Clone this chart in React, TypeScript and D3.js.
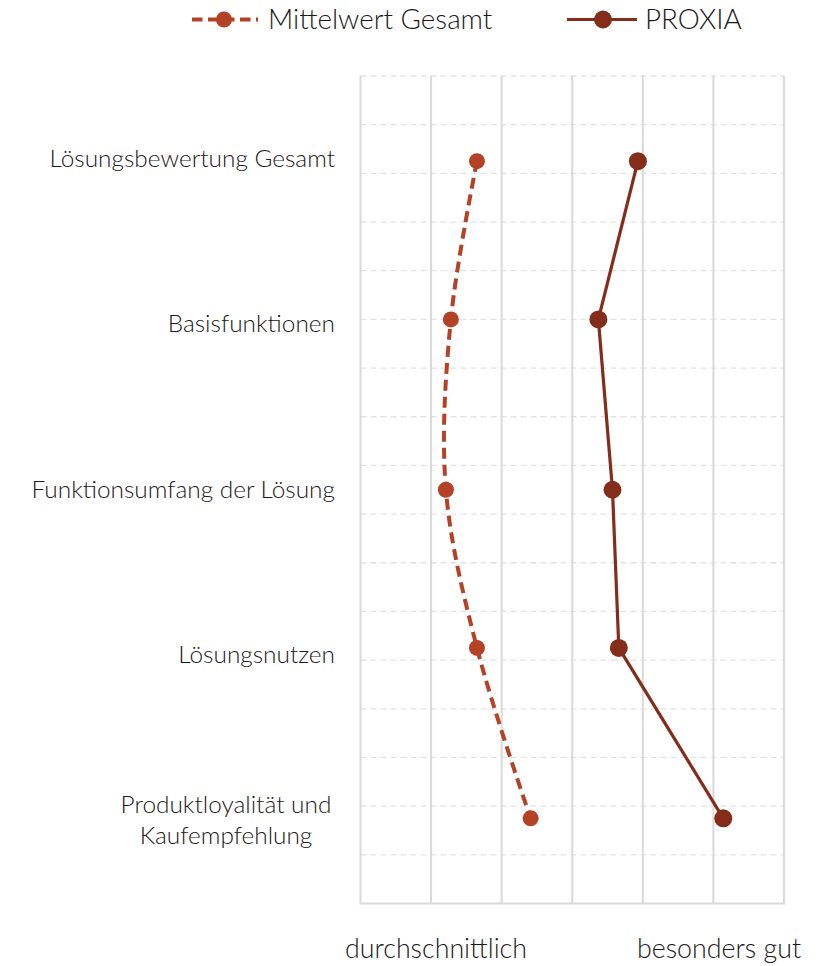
import React, { useEffect, useRef } from 'react';
import * as d3 from 'd3';

// categories, top to bottom
const categories = [
    'Lösungsbewertung Gesamt',
    'Basisfunktionen',
    'Funktionsumfang der Lösung',
    'Lösungsnutzen',
    'Produktloyalität und Kaufempfehlung',
];

// vertical position of each point on the hidden y axis (0..17)
const pointRows = [1.75, 5.0, 8.5, 11.75, 15.25];

// horizontal values on the hidden x axis (0..6)
const mittelwertValues = [1.65, 1.28, 1.21, 1.65, 2.41];
const proxiaValues = [3.93, 3.37, 3.57, 3.66, 5.14];

const axisLabels = ['durchschnittlich', 'besonders gut'];
const axisLabelValues = [1.07, 5.08];

const FONT = 'Lato, "Open Sans", sans-serif';
const C_MITTEL = '#B44226';
const C_PROXIA = '#842D1B';

const width = 818;
const height = 966;
const plot = { left: 360.5, right: 784, top: 76, bottom: 903.5 };

export default function App() {
    const svgRef = useRef(null);

    useEffect(() => {
        document.body.style.margin = '0';
        if (!svgRef.current) return;
        const svg = d3.select(svgRef.current);
        svg.selectAll('*').remove();

        const x = d3.scaleLinear().domain([0, 6]).range([plot.left, plot.right]);
        const y = d3.scaleLinear().domain([0, 17]).range([plot.top, plot.bottom]);
        const band = d3.scaleBand().domain(categories).range([plot.top, plot.bottom]);

        // horizontal dashed gridlines
        const g = svg.append('g');
        g.selectAll('.hgrid')
            .data(d3.range(0, 17))
            .enter().append('line')
            .attr('x1', plot.left).attr('x2', plot.right)
            .attr('y1', d => y(d)).attr('y2', d => y(d))
            .attr('stroke', '#E3E3E3')
            .attr('stroke-width', 1.3)
            .attr('stroke-dasharray', '6 4');

        // vertical gridlines
        g.selectAll('.vgrid')
            .data(x.ticks(6))
            .enter().append('line')
            .attr('x1', d => x(d)).attr('x2', d => x(d))
            .attr('y1', plot.top).attr('y2', plot.bottom)
            .attr('stroke', '#D9D9D9')
            .attr('stroke-width', 2);

        // bottom axis line
        g.append('line')
            .attr('x1', plot.left - 1).attr('x2', plot.right + 1)
            .attr('y1', plot.bottom).attr('y2', plot.bottom)
            .attr('stroke', '#D9D9D9')
            .attr('stroke-width', 2);

        // category labels
        const labels = svg.append('g')
            .attr('font-family', FONT)
            .attr('font-weight', 300)
            .attr('font-size', 24.4)
            .attr('fill', '#1a1a1a');
        categories.forEach(c => {
            const cy = band(c) + band.bandwidth() / 2;
            if (c === 'Produktloyalität und Kaufempfehlung') {
                const t = labels.append('text')
                    .attr('x', 226)
                    .attr('text-anchor', 'middle');
                t.append('tspan').attr('x', 226).attr('y', cy - 8).text('Produktloyalität und');
                t.append('tspan').attr('x', 226).attr('y', cy + 23).text('Kaufempfehlung');
            } else {
                labels.append('text')
                    .attr('x', 335)
                    .attr('y', cy + 8)
                    .attr('text-anchor', 'end')
                    .text(c);
            }
        });

        // axis end labels
        labels.selectAll('.axl')
            .data(axisLabels)
            .enter().append('text')
            .attr('x', (d, i) => x(axisLabelValues[i]))
            .attr('y', 958)
            .attr('font-size', 26.8)
            .attr('text-anchor', 'middle')
            .text(d => d);

        const smooth = d3.line()
            .x(d => x(d[0]))
            .y(d => y(d[1]))
            .curve(d3.curveCatmullRom.alpha(0.5));
        const straight = d3.line()
            .x(d => x(d[0]))
            .y(d => y(d[1]));

        const mPts = mittelwertValues.map((v, i) => [v, pointRows[i]]);
        const pPts = proxiaValues.map((v, i) => [v, pointRows[i]]);

        // Mittelwert Gesamt (smoothed dashed)
        svg.append('path')
            .datum(mPts)
            .attr('fill', 'none')
            .attr('stroke', C_MITTEL)
            .attr('stroke-width', 4)
            .attr('stroke-dasharray', '11 6')
            .attr('d', smooth);

        // PROXIA
        svg.append('path')
            .datum(pPts)
            .attr('fill', 'none')
            .attr('stroke', C_PROXIA)
            .attr('stroke-width', 3.2)
            .attr('d', straight);

        svg.selectAll('.mdot')
            .data(mPts)
            .enter().append('circle')
            .attr('cx', d => x(d[0])).attr('cy', d => y(d[1]))
            .attr('r', 8)
            .attr('fill', C_MITTEL);

        svg.selectAll('.pdot')
            .data(pPts)
            .enter().append('circle')
            .attr('cx', d => x(d[0])).attr('cy', d => y(d[1]))
            .attr('r', 9)
            .attr('fill', C_PROXIA);

        // legend
        const lg = svg.append('g')
            .attr('font-family', FONT)
            .attr('font-weight', 300)
            .attr('font-size', 27.8)
            .attr('fill', '#1a1a1a');
        lg.append('line')
            .attr('x1', 192).attr('x2', 258).attr('y1', 19.5).attr('y2', 19.5)
            .attr('stroke', C_MITTEL).attr('stroke-width', 4)
            .attr('stroke-dasharray', '10.5 5.5');
        lg.append('circle').attr('cx', 224).attr('cy', 19.5).attr('r', 8).attr('fill', C_MITTEL);
        lg.append('text').attr('x', 268).attr('y', 29).text('Mittelwert Gesamt');

        lg.append('line')
            .attr('x1', 567).attr('x2', 637).attr('y1', 19.5).attr('y2', 19.5)
            .attr('stroke', C_PROXIA).attr('stroke-width', 3.2);
        lg.append('circle').attr('cx', 603).attr('cy', 19.5).attr('r', 9).attr('fill', C_PROXIA);
        lg.append('text').attr('x', 645).attr('y', 29).text('PROXIA');
    }, []);

    return (
        <svg ref={svgRef} width={width} height={height} style={{ display: 'block' }}></svg>
    );
}
